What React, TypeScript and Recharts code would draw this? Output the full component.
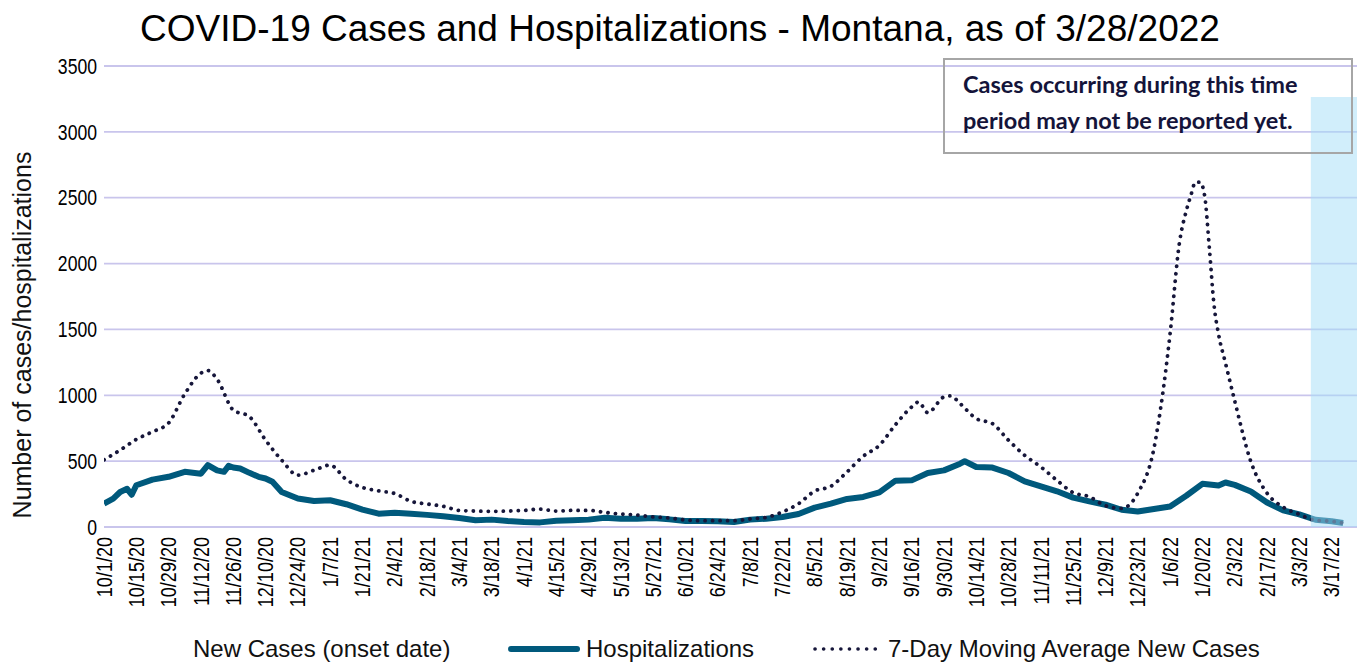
import React from 'react';
import {
  ComposedChart,
  Line,
  XAxis,
  YAxis,
  CartesianGrid,
  Legend,
  ReferenceArea,
} from 'recharts';

// 7-day moving average of new cases
const caseDates = [
  '10/1/20', '10/8/20', '10/15/20', '10/22/20', '10/29/20', '11/5/20', '11/12/20', '11/15/20',
  '11/19/20', '11/26/20', '12/3/20', '12/10/20', '12/17/20', '12/24/20', '12/31/20', '1/7/21',
  '1/14/21', '1/21/21', '1/28/21', '2/4/21', '2/11/21', '2/18/21', '2/25/21', '3/4/21',
  '3/11/21', '3/18/21', '3/25/21', '4/1/21', '4/8/21', '4/15/21', '4/22/21', '4/29/21',
  '5/6/21', '5/13/21', '5/20/21', '5/27/21', '6/3/21', '6/10/21', '6/17/21', '6/24/21',
  '7/1/21', '7/8/21', '7/15/21', '7/22/21', '7/29/21', '8/5/21', '8/12/21', '8/19/21',
  '8/26/21', '9/2/21', '9/9/21', '9/16/21', '9/19/21', '9/23/21', '9/30/21', '10/3/21',
  '10/7/21', '10/14/21', '10/21/21', '10/28/21', '11/4/21', '11/11/21', '11/18/21', '11/25/21',
  '12/2/21', '12/9/21', '12/16/21', '12/23/21', '12/30/21', '1/2/22', '1/6/22', '1/10/22',
  '1/13/22', '1/15/22', '1/17/22', '1/19/22', '1/21/22', '1/23/22', '1/25/22', '1/27/22',
  '1/30/22', '2/3/22', '2/10/22', '2/17/22', '2/24/22', '3/3/22', '3/10/22', '3/17/22',
  '3/22/22',
];
const caseValues = [
  510, 584, 665, 723, 790, 1010, 1168, 1188,
  1122, 888, 838, 660, 508, 393, 431, 470,
  360, 300, 274, 254, 195, 175, 157, 126,
  121, 119, 121, 126, 136, 121, 126, 126,
  111, 98, 91, 76, 68, 53, 48, 48,
  48, 61, 73, 114, 177, 273, 309, 418,
  537, 620, 777, 911, 949, 868, 987, 995,
  937, 823, 785, 658, 544, 456, 354, 261,
  230, 161, 141, 257, 597, 912, 1467, 2152,
  2399, 2517, 2618, 2618, 2512, 2122, 1693, 1464,
  1245, 958, 496, 257, 151, 96, 50, 43,
  30,
];

// hospitalizations
const hospDates = [
  '10/1/20', '10/5/20', '10/8/20', '10/11/20', '10/13/20', '10/15/20', '10/22/20', '10/29/20',
  '11/5/20', '11/12/20', '11/15/20', '11/19/20', '11/22/20', '11/24/20', '11/26/20', '11/29/20',
  '12/3/20', '12/7/20', '12/10/20', '12/13/20', '12/17/20', '12/24/20', '12/31/20', '1/7/21',
  '1/14/21', '1/21/21', '1/28/21', '2/4/21', '2/11/21', '2/18/21', '2/25/21', '3/4/21',
  '3/11/21', '3/18/21', '3/25/21', '4/1/21', '4/8/21', '4/15/21', '4/22/21', '4/29/21',
  '5/6/21', '5/13/21', '5/20/21', '5/27/21', '6/3/21', '6/10/21', '6/17/21', '6/24/21',
  '7/1/21', '7/8/21', '7/15/21', '7/22/21', '7/29/21', '8/5/21', '8/12/21', '8/19/21',
  '8/26/21', '9/2/21', '9/9/21', '9/16/21', '9/23/21', '9/30/21', '10/7/21', '10/9/21',
  '10/14/21', '10/21/21', '10/28/21', '11/4/21', '11/11/21', '11/18/21', '11/25/21', '12/2/21',
  '12/9/21', '12/16/21', '12/23/21', '12/30/21', '1/6/22', '1/13/22', '1/20/22', '1/27/22',
  '1/30/22', '2/3/22', '2/10/22', '2/17/22', '2/24/22', '3/3/22', '3/10/22', '3/17/22',
  '3/22/22',
];
const hospValues = [
  178, 216, 266, 290, 245, 317, 360, 381,
  419, 405, 470, 430, 419, 464, 452, 444,
  411, 381, 368, 343, 266, 216, 198, 203,
  173, 132, 101, 109, 101, 92, 81, 68,
  51, 56, 45, 38, 35, 48, 51, 56,
  71, 63, 63, 68, 58, 45, 45, 43,
  38, 56, 63, 76, 99, 147, 177, 213,
  228, 263, 352, 354, 410, 430, 481, 499,
  456, 451, 410, 347, 309, 271, 223, 195,
  169, 131, 118, 136, 156, 237, 328, 315,
  338, 320, 270, 186, 126, 96, 55, 43,
  30,
];

const tickLabels = [
  '10/1/20', '10/15/20', '10/29/20', '11/12/20', '11/26/20', '12/10/20', '12/24/20', '1/7/21',
  '1/21/21', '2/4/21', '2/18/21', '3/4/21', '3/18/21', '4/1/21', '4/15/21', '4/29/21',
  '5/13/21', '5/27/21', '6/10/21', '6/24/21', '7/8/21', '7/22/21', '8/5/21', '8/19/21',
  '9/2/21', '9/16/21', '9/30/21', '10/14/21', '10/28/21', '11/11/21', '11/25/21', '12/9/21',
  '12/23/21', '1/6/22', '1/20/22', '2/3/22', '2/17/22', '3/3/22', '3/17/22',
];
const yTicks = [0, 500, 1000, 1500, 2000, 2500, 3000, 3500];

const START = '10/1/20';
const END = '3/28/22';
const PENDING_FROM = '3/8/22';

const FONT = '"Liberation Sans", Arial, sans-serif';
const NOTE_FONT = "Lato, 'Open Sans', sans-serif";
const HOSP_COLOR = '#00597C';
const CASE_COLOR = '#16163A';
const GRID_COLOR = '#C9C5EC';
const NARROW = 0.82; // tick labels use a condensed face in the original

const toDay = (s: string) => {
  const [m, d, y] = s.split('/').map(Number);
  const [m0, d0, y0] = START.split('/').map(Number);
  return Math.round((Date.UTC(2000 + y, m - 1, d) - Date.UTC(2000 + y0, m0 - 1, d0)) / 86400000);
};

const caseData = caseDates.map((d, i) => ({ day: toDay(d), value: caseValues[i] }));
const hospData = hospDates.map((d, i) => ({ day: toDay(d), value: hospValues[i] }));
const tickDays = tickLabels.map(toDay);

const DateTick = (props: any) => {
  const { x, y, payload } = props;
  const label = tickLabels[tickDays.indexOf(payload.value)];
  return (
    <text
      x={0}
      y={0}
      transform={`translate(${x} ${y + 2}) rotate(-90) scale(${NARROW} 1)`}
      textAnchor="end"
      dominantBaseline="central"
      fontSize={22}
      fontFamily={FONT}
      fill="#000"
    >
      {label}
    </text>
  );
};

const ValueTick = (props: any) => {
  const { x, y, payload } = props;
  return (
    <text
      x={0}
      y={0}
      transform={`translate(${x + 1} ${y}) scale(0.8 1)`}
      textAnchor="end"
      dominantBaseline="central"
      fontSize={22}
      fontFamily={FONT}
      fill="#000"
    >
      {payload.value}
    </text>
  );
};

const renderLegend = () => (
  <div style={{ position: 'relative', width: 1360, height: 28, fontFamily: FONT, fontSize: 24, lineHeight: '28px', color: '#111' }}>
    <span style={{ position: 'absolute', left: 193, top: 0, whiteSpace: 'nowrap' }}>New Cases (onset date)</span>
    <svg style={{ position: 'absolute', left: 508, top: 0 }} width={72} height={28}>
      <line x1={3} y1={14} x2={69} y2={14} stroke={HOSP_COLOR} strokeWidth={6} strokeLinecap="round" />
    </svg>
    <span style={{ position: 'absolute', left: 586, top: 0, whiteSpace: 'nowrap' }}>Hospitalizations</span>
    <svg style={{ position: 'absolute', left: 812, top: 0 }} width={72} height={28}>
      <line x1={3} y1={14} x2={69} y2={14} stroke={CASE_COLOR} strokeWidth={3.6} strokeDasharray="0.1 8.5" strokeLinecap="round" />
    </svg>
    <span style={{ position: 'absolute', left: 888, top: 0, whiteSpace: 'nowrap' }}>7-Day Moving Average New Cases</span>
  </div>
);

export default function App() {
  return (
    <div style={{ position: 'absolute', left: 0, top: 0, width: 1360, height: 663, background: '#fff' }}>
      <ComposedChart width={1360} height={663} margin={{ top: 66, right: 3, left: 0, bottom: 0 }}>
        <CartesianGrid vertical={false} stroke={GRID_COLOR} strokeWidth={1.8} />
        <XAxis
          dataKey="day"
          type="number"
          domain={[toDay(START), toDay(END)]}
          ticks={tickDays}
          interval={0}
          allowDataOverflow
          height={108}
          axisLine={{ stroke: GRID_COLOR, strokeWidth: 1.8 }}
          tickLine={false}
          tick={<DateTick />}
        />
        <YAxis
          type="number"
          domain={[0, 3500]}
          ticks={yTicks}
          width={104}
          axisLine={false}
          tickLine={false}
          tick={<ValueTick />}
        />
        <Legend content={renderLegend} verticalAlign="bottom" wrapperStyle={{ left: 0, bottom: 0, width: 1360, height: 28 }} />
        <Line
          data={caseData}
          dataKey="value"
          type="monotone"
          stroke="#fff"
          strokeWidth={3}
          dot={false}
          activeDot={false}
          legendType="none"
          isAnimationActive={false}
        />
        <Line
          data={hospData}
          dataKey="value"
          name="Hospitalizations"
          type="linear"
          stroke={HOSP_COLOR}
          strokeWidth={6}
          strokeLinejoin="round"
          dot={false}
          activeDot={false}
          isAnimationActive={false}
        />
        <Line
          data={caseData}
          dataKey="value"
          name="7-Day Moving Average New Cases"
          type="monotone"
          stroke={CASE_COLOR}
          strokeWidth={3.8}
          strokeDasharray="0.1 7.4"
          strokeLinecap="round"
          dot={false}
          activeDot={false}
          isAnimationActive={false}
        />
        <ReferenceArea
          x1={toDay(PENDING_FROM)}
          x2={toDay(END)}
          y1={0}
          y2={3265}
          fill="#A4DDF7"
          fillOpacity={0.5}
          stroke="none"
          ifOverflow="visible"
          zIndex={1000}
        />
      </ComposedChart>
      <svg width={1360} height={663} style={{ position: 'absolute', left: 0, top: 0, pointerEvents: 'none' }}>
        <text x={680} y={41} textAnchor="middle" fontSize={37} fontFamily={FONT} fill="#000">
          COVID-19 Cases and Hospitalizations - Montana, as of 3/28/2022
        </text>
        <text
          x={31}
          y={335}
          transform="rotate(-90 31 335)"
          textAnchor="middle"
          fontSize={25}
          fontFamily={FONT}
          fill="#111"
        >
          Number of cases/hospitalizations
        </text>
        <rect x={944} y={59} width={408} height={94} fill="none" stroke="#A6A6A6" strokeWidth={2} />
        <text x={963} y={93} fontSize={23.5} fontWeight={700} fontFamily={NOTE_FONT} fill="#14143A">
          Cases occurring during this time
        </text>
        <text x={963} y={129} fontSize={23.5} fontWeight={700} fontFamily={NOTE_FONT} fill="#14143A">
          period may not be reported yet.
        </text>
      </svg>
    </div>
  );
}
